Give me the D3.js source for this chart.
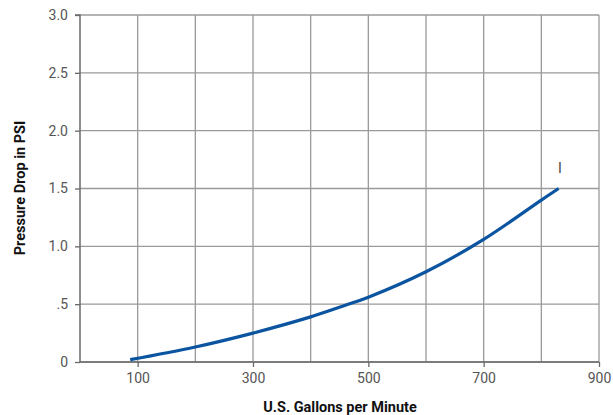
<!DOCTYPE html>
<html><head><meta charset="utf-8">
<script src="https://cdn.jsdelivr.net/npm/d3@7"></script>
<style>body{margin:0;background:#fff}svg{display:block}</style>
</head><body><svg id="c" width="613" height="415"></svg>
<script>
const gpm = [87, 200, 300, 400, 460, 500, 600, 700, 800, 830];
const psi = [0.02, 0.13, 0.25, 0.39, 0.49, 0.56, 0.78, 1.06, 1.40, 1.50];
const xTickVals = [100, 300, 500, 700, 900];
const xGridVals = [100, 200, 300, 400, 500, 600, 700, 800, 900];
const yTickVals = [0, 0.5, 1.0, 1.5, 2.0, 2.5, 3.0];
const yTickLabels = ["0", ".5", "1.0", "1.5", "2.0", "2.5", "3.0"];
const xTitle = "U.S. Gallons per Minute";
const yTitle = "Pressure Drop in PSI";
const note = "I";

const svg = d3.select("#c");
const L = 80, R = 599, T = 15, B = 362;
const x = d3.scaleLinear().domain([0, 900]).range([L, R]);
const y = d3.scaleLinear().domain([0, 3]).range([B, T]);

// grid
svg.append("g").selectAll("line").data(xGridVals).join("line")
  .attr("x1", d => x(d)).attr("x2", d => x(d)).attr("y1", T).attr("y2", B)
  .attr("stroke", "#9a9a9a").attr("stroke-width", 1.3);
svg.append("g").selectAll("line").data(yTickVals).join("line")
  .attr("x1", L).attr("x2", R).attr("y1", d => y(d)).attr("y2", d => y(d))
  .attr("stroke", "#9a9a9a").attr("stroke-width", 1.3);

// axes
const yAxis = d3.axisLeft(y).tickValues(yTickVals).tickSize(5).tickPadding(7)
  .tickFormat((d, i) => yTickLabels[i]);
const gy = svg.append("g").attr("transform", `translate(${L},0)`).call(yAxis);
const xAxis = d3.axisBottom(x).tickValues(xTickVals).tickSize(5).tickPadding(6).tickFormat(d3.format("d"));
const gx = svg.append("g").attr("transform", `translate(0,${B})`).call(xAxis);
[gx, gy].forEach(g => {
  g.select(".domain").attr("stroke", "#6a6a6a").attr("stroke-width", 1.5);
  g.selectAll(".tick line").attr("stroke", "#6a6a6a").attr("stroke-width", 1.3);
  g.selectAll("text").attr("fill", "#555").style("font-family", "Roboto, sans-serif").style("font-size", "14px");
});
gy.select(".domain").attr("d", `M-5,${T}H0V${B}`);
gx.select(".domain").attr("d", `M${L},0H${R}`);

// curve
const line = d3.line().x(d => x(d[0])).y(d => y(d[1])).curve(d3.curveCatmullRom.alpha(0.5));
svg.append("path").datum(gpm.map((g, i) => [g, psi[i]]))
  .attr("d", line).attr("fill", "none").attr("stroke", "#0b54a0")
  .attr("stroke-width", 3.2).attr("stroke-linecap", "butt");

// note mark
svg.append("text").attr("x", x(832)).attr("y", y(1.63)).attr("text-anchor", "middle")
  .attr("fill", "#444").style("font-family", "Roboto, sans-serif").style("font-size", "14px").text(note);

// titles
svg.append("text").attr("x", 340).attr("y", 412).attr("text-anchor", "middle")
  .attr("fill", "#111").style("font-family", "Roboto, sans-serif").style("font-weight", "bold").style("font-size", "14.5px")
  .text(xTitle);
svg.append("text").attr("transform", "translate(25,188) rotate(-90)").attr("text-anchor", "middle")
  .attr("fill", "#111").style("font-family", "Roboto, sans-serif").style("font-weight", "bold").style("font-size", "14.5px")
  .text(yTitle);
</script></body></html>
